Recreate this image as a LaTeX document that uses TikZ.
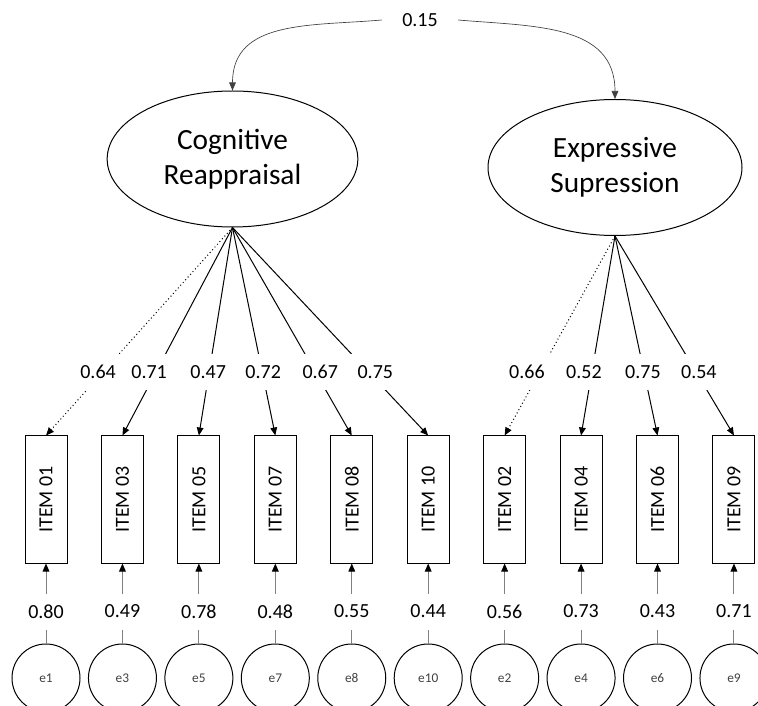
\documentclass[tikz,border=0pt]{standalone}
\usepackage{fontspec}
\setmainfont{Carlito}
\usetikzlibrary{arrows.meta, positioning, shapes.geometric}

\begin{document}
\begin{tikzpicture}[x=0.75pt, y=0.75pt,
  latent/.style={ellipse, draw=black, line width=0.75pt, minimum width=188pt, minimum height=102pt,
                 align=center, font=\fontsize{22}{26}\selectfont},
  item/.style={rectangle, draw=black, line width=0.75pt, minimum width=31.5pt, minimum height=95.25pt,
               inner sep=0pt, font=\fontsize{15}{18}\selectfont},
  errvar/.style={circle, draw=black, line width=0.75pt, minimum size=51pt, inner sep=0pt,
                 text=black!75, font=\fontsize{10}{12}\selectfont},
  coef/.style={fill=white, inner sep=0pt, minimum width=36pt, minimum height=27pt, font=\fontsize{15}{18}\selectfont},
  load/.style={-{Triangle[length=6pt, width=5pt]}, line width=0.75pt},
  res/.style={-{Triangle[length=6pt, width=5pt, color=black]}, draw=gray, line width=0.75pt},
  covpath/.style={-{Triangle[length=6pt, width=5pt]}, line width=0.5pt, draw=black!75}
]
  \clip (0,0) rectangle (758,-706);

  % latent factors
  \node[latent] (cr) at (232.5,-159) {Cognitive\\Reappraisal};
  \node[latent, minimum width=190.5pt] (es) at (615,-167.5) {Expressive\\Supression};
  \node[coef, minimum width=57pt] (corr) at (420,-20) {0.15};
  \draw[covpath] (corr.west) to[out=185, in=90, looseness=1.1] (cr.north);
  \draw[covpath] (corr.east) to[out=-5, in=90, looseness=1.1] (es.north);

  % observed items
  \node[item] (i01) at (46,-499.5) {\rotatebox{90}{ITEM 01}};
  \node[item, right=25.08pt of i01] (i03) {\rotatebox{90}{ITEM 03}};
  \node[item, right=25.08pt of i03] (i05) {\rotatebox{90}{ITEM 05}};
  \node[item, right=25.08pt of i05] (i07) {\rotatebox{90}{ITEM 07}};
  \node[item, right=25.08pt of i07] (i08) {\rotatebox{90}{ITEM 08}};
  \node[item, right=25.08pt of i08] (i10) {\rotatebox{90}{ITEM 10}};
  \node[item, right=25.08pt of i10] (i02) {\rotatebox{90}{ITEM 02}};
  \node[item, right=25.08pt of i02] (i04) {\rotatebox{90}{ITEM 04}};
  \node[item, right=25.08pt of i04] (i06) {\rotatebox{90}{ITEM 06}};
  \node[item, right=25.08pt of i06] (i09) {\rotatebox{90}{ITEM 09}};

  % error terms
  \node[errvar, below=60pt of i01] (e1) {e1};
  \node[errvar, below=60pt of i03] (e3) {e3};
  \node[errvar, below=60pt of i05] (e5) {e5};
  \node[errvar, below=60pt of i07] (e7) {e7};
  \node[errvar, below=60pt of i08] (e8) {e8};
  \node[errvar, below=60pt of i10] (e10) {e10};
  \node[errvar, below=60pt of i02] (e2) {e2};
  \node[errvar, below=60pt of i04] (e4) {e4};
  \node[errvar, below=60pt of i06] (e6) {e6};
  \node[errvar, below=60pt of i09] (e9) {e9};

  % loadings
  \draw[load, dotted] (cr.south) -- node[coef, pos=.694, xshift=-3.75pt] {0.64} (i01.north);
  \draw[load] (cr.south) -- node[coef, pos=.694, xshift=-5.25pt] {0.71} (i03.north);
  \draw[load] (cr.south) -- node[coef, pos=.694, xshift=-0.75pt] {0.47} (i05.north);
  \draw[load] (cr.south) -- node[coef, pos=.694, xshift=0.75pt] {0.72} (i07.north);
  \draw[load] (cr.south) -- node[coef, pos=.694, xshift=3.75pt] {0.67} (i08.north);
  \draw[load] (cr.south) -- node[coef, pos=.694, xshift=5.25pt] {0.75} (i10.north);
  \draw[load, dotted] (es.south) -- node[coef, pos=.68, xshift=-9.75pt] {0.66} (i02.north);
  \draw[load] (es.south) -- node[coef, pos=.68, xshift=-6pt] {0.52} (i04.north);
  \draw[load] (es.south) -- node[coef, pos=.68, xshift=-0.75pt] {0.75} (i06.north);
  \draw[load] (es.south) -- node[coef, pos=.68, xshift=2.25pt] {0.54} (i09.north);

  % residuals
  \draw[res] (e1) -- node[coef, pos=.4] {0.80} (i01);
  \draw[res] (e3) -- node[coef, pos=.4] {0.49} (i03);
  \draw[res] (e5) -- node[coef, pos=.4] {0.78} (i05);
  \draw[res] (e7) -- node[coef, pos=.4] {0.48} (i07);
  \draw[res] (e8) -- node[coef, pos=.4] {0.55} (i08);
  \draw[res] (e10) -- node[coef, pos=.4] {0.44} (i10);
  \draw[res] (e2) -- node[coef, pos=.4] {0.56} (i02);
  \draw[res] (e4) -- node[coef, pos=.4] {0.73} (i04);
  \draw[res] (e6) -- node[coef, pos=.4] {0.43} (i06);
  \draw[res] (e9) -- node[coef, pos=.4] {0.71} (i09);
\end{tikzpicture}
\end{document}
